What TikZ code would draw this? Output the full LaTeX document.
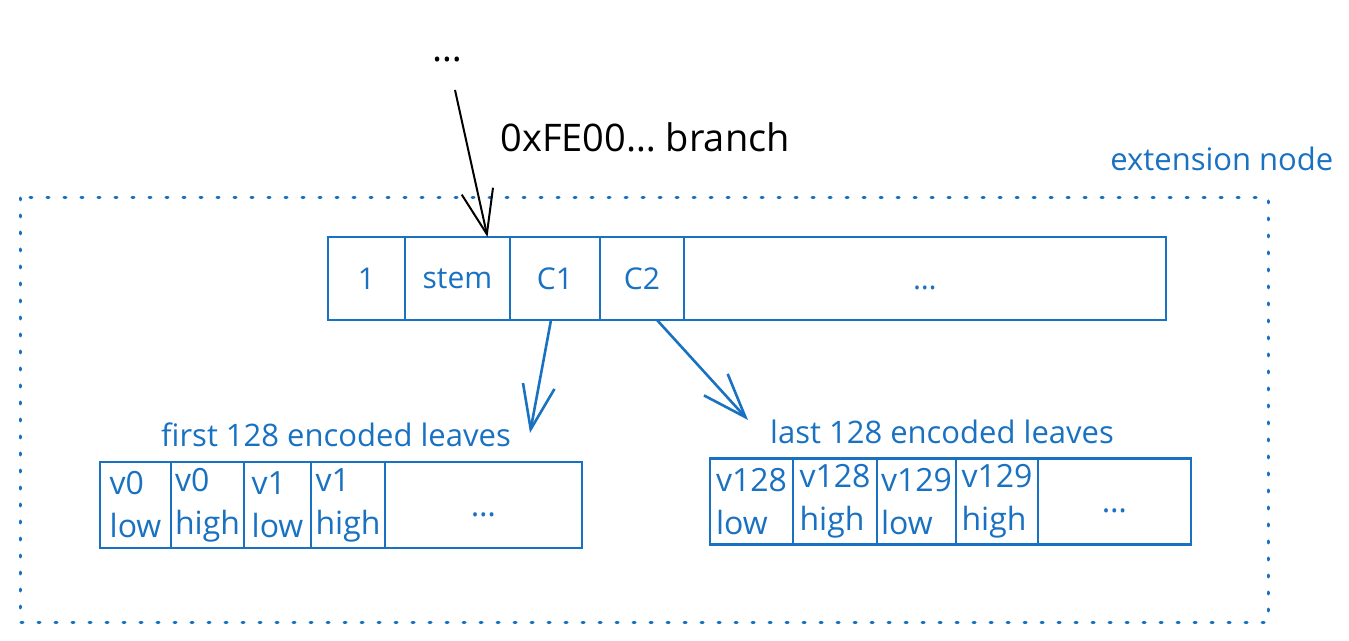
\documentclass[tikz,border=0pt]{standalone}
\usepackage{fontspec}
\setmainfont{Open Sans}
\usetikzlibrary{arrows.meta,positioning}
\definecolor{xblue}{HTML}{1971C2}

\begin{document}
\begin{tikzpicture}[x=0.5pt,y=-0.5pt,
  >={Straight Barb[length=22pt,width=16pt]},
  cell/.style={draw=xblue,line width=1.3pt,text=xblue,inner sep=0pt,outer sep=0pt,
    minimum height=41.5pt,anchor=west,font=\fontsize{15}{18}\selectfont},
  leaf/.style={cell,minimum height=43pt,align=left,font=\fontsize{16}{21.5}\selectfont},
  label/.style={text=xblue,inner sep=0pt,font=\fontsize{15.5}{18}\selectfont}]
\useasboundingbox (0,0) rectangle (1349,641);

% extension node frame
\draw[xblue,line width=1.5pt,line cap=round,dash pattern=on 1pt off 7.5pt]
  (20,198) rectangle (1268,622);
\node[label,anchor=base west] (ext) at (1110,171) {extension node};

% incoming branch
\node[inner sep=0pt,anchor=base,font=\fontsize{19}{22}\selectfont] (dots) at (447,62) {…};
\node[inner sep=0pt,anchor=base west,font=\fontsize{19}{22}\selectfont] (branch) at (500,152) {0xFE00… branch};

% the extension node
\node[cell,minimum width=38.5pt] (one) at (328,278.5) {1};
\node[cell,minimum width=52.5pt] (stem) [right=0pt of one] {stem};
\node[cell,minimum width=45pt] (cone) [right=0pt of stem] {C1};
\node[cell,minimum width=42pt] (ctwo) [right=0pt of cone] {C2};
\node[cell,minimum width=241pt] (rest) [right=0pt of ctwo] {\vphantom{C}…};

% first leaves
\node[label] (first) at (336,435) {first 128 encoded leaves};
\node[leaf,minimum width=35.5pt] (vzl) at (100,505) {v0\\low};
\node[leaf,minimum width=36.5pt] (vzh) [right=0pt of vzl] {v0\\high};
\node[leaf,minimum width=33.5pt] (vol) [right=0pt of vzh] {v1\\low};
\node[leaf,minimum width=37pt] (voh) [right=0pt of vol] {v1\\high};
\node[leaf,minimum width=98.5pt] (vrest) [right=0pt of voh] {\vphantom{C}…};

% last leaves
\node[label] (last) at (942,432) {last 128 encoded leaves};
\node[leaf,minimum width=41.5pt] (wel) at (710,501.5) {v128\\low};
\node[leaf,minimum width=42pt] (weh) [right=0pt of wel] {v128\\high};
\node[leaf,minimum width=39.5pt] (wnl) [right=0pt of weh] {v129\\low};
\node[leaf,minimum width=41pt] (wnh) [right=0pt of wnl] {v129\\high};
\node[leaf,minimum width=76.5pt] (wrest) [right=0pt of wnh] {\vphantom{C}…};

\coordinate (from) at (455,90);
\coordinate (c1tip) at (530,433);
\coordinate (c2tip) at (748,420);

\draw[->,line width=1pt] (from) -- ([xshift=15pt]stem.north);
\draw[->,xblue,line width=1.3pt] ([xshift=-2pt]cone.south) -- (c1tip);
\draw[->,xblue,line width=1.3pt] ([xshift=7.5pt]ctwo.south) -- (c2tip);
\end{tikzpicture}
\end{document}
